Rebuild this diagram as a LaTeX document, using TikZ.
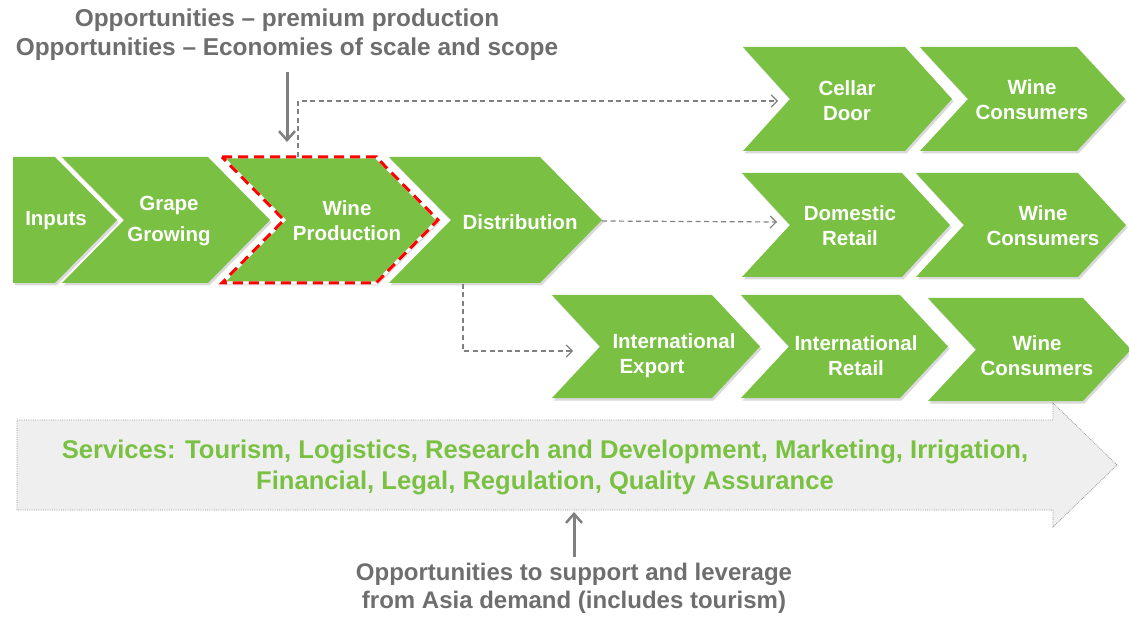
\documentclass[tikz,border=0pt]{standalone}
\usepackage{fontspec}
\setmainfont{Liberation Sans}
\usetikzlibrary{shadows,arrows.meta}
\definecolor{cgreen}{HTML}{7AC143}
\definecolor{cgray}{HTML}{6E6E6E}
\definecolor{agray}{HTML}{808080}
\definecolor{sfill}{HTML}{EFEFEF}
\newcommand\chevron[6][]{%
  \path[chev,#1] (#2,#5) -- (#3,#5) -- ({#3+#4},{(#5+#6)/2}) -- (#3,#6) -- (#2,#6) -- ({#2+#4},{(#5+#6)/2}) -- cycle;}
\tikzset{
  chev/.style={fill=cgreen, drop shadow={shadow xshift=1.5pt, shadow yshift=-2.5pt, opacity=0.3}},
  ctext/.style={text=white, font=\fontsize{20.5}{25}\selectfont\bfseries, align=center, inner sep=0pt},
  ttext/.style={text=cgray, font=\fontsize{24.4}{29}\selectfont\bfseries, align=center, inner sep=0pt},
  stext/.style={text=cgreen, font=\fontsize{25.6}{31}\selectfont\bfseries, align=center, inner sep=0pt},
  dashconn/.style={draw=agray, line width=1.2pt, dash pattern=on 5pt off 3.5pt, -{Straight Barb[length=6pt,width=12pt,line width=1.2pt]}},
  garrow/.style={draw=agray, line width=3pt, -{Straight Barb[length=9pt,width=16pt,line width=2.5pt]}},
  focus/.style={draw=red, line width=3pt, dash pattern=on 10pt off 6pt},
}
\begin{document}
\begin{tikzpicture}[x=1pt,y=-1pt]
\useasboundingbox (0,0) rectangle (1129,617);

% services arrow
\path[fill=sfill, draw=agray!80, line width=0.8pt, densely dotted]
  (17,420) -- (1053,420) -- (1053,403) -- (1117,465) -- (1053,527) -- (1053,510) -- (17,510) -- cycle;
\node[stext] (services) at (545,467) {Services: Tourism, Logistics, Research and Development, Marketing, Irrigation,\\Financial, Legal, Regulation, Quality Assurance};

% main row
\path[chev] (13,157) -- (55,157) -- (117,220) -- (55,283) -- (13,283) -- cycle;
\chevron{62}{208}{62}{157}{283}
\path[chev] (222,157) -- (376,157) -- (438,220) -- (376,283) -- (222,283) -- (284,220) -- cycle;
\draw[white, line width=3pt] (222,157) -- (376,157) -- (438,220) -- (376,283) -- (222,283) -- (284,220) -- cycle;
\draw[focus] (222,157) -- (376,157) -- (438,220) -- (376,283) -- (222,283) -- (284,220) -- cycle;
\chevron{389}{540}{62}{157}{283}

\node[ctext] (inputs) at (56,221) {Inputs};
\node[ctext, font=\fontsize{20.5}{31}\selectfont\bfseries] (grape) at (169,221) {Grape\\Growing};
\node[ctext] (wineprod) at (347,221) {Wine\\Production};
\node[ctext] (distrib) at (520,222) {Distribution};

% row 1
\chevron{743}{905}{47}{47}{151}
\chevron{920}{1077}{48}{47}{151}
\node[ctext] (cellar) at (847,101) {Cellar\\Door};
\node[ctext] (wc1) at (1032,100) {Wine\\Consumers};

% row 2
\chevron{742}{902}{48}{173}{277}
\chevron{916}{1078}{48}{173}{277}
\node[ctext] (domestic) at (850,226) {Domestic\\Retail};
\node[ctext] (wc2) at (1043,226) {Wine\\Consumers};

% row 3
\chevron{552}{712}{48}{295}{398}
\chevron{741}{900}{48}{295}{398}
\chevron{928}{1083}{48}{298}{401}
\node[ctext, align=left] (export) at (674,356) {International\\\hspace{7pt}Export};
\node[ctext] (intretail) at (856,356) {International\\Retail};
\node[ctext] (wc3) at (1037,356) {Wine\\Consumers};

% connectors
\coordinate (wpTop) at (298,157);
\coordinate (cdIn) at (778,101);
\coordinate (distTip) at (602,221);
\coordinate (drIn) at (777,222);
\coordinate (distBot) at (463,284);
\coordinate (ieIn) at (573,351);
\draw[dashconn] (wpTop) |- (cdIn);
\draw[dashconn] (distTip) -- (drIn);
\draw[dashconn] (distBot) |- (ieIn);

% titles
\node[ttext] (title) at (287,35) {Opportunities -- premium production\\Opportunities -- Economies of scale and scope};
\coordinate (tA) at (287,72);
\coordinate (tB) at (287,142);
\draw[garrow] (tA) -- (tB);

\node[ttext, font=\fontsize{24}{28}\selectfont\bfseries] (asia) at (574,588) {Opportunities to support and leverage\\from Asia demand (includes tourism)};
\coordinate (bA) at (574,557);
\coordinate (bB) at (574,512);
\draw[garrow] (bA) -- (bB);
\end{tikzpicture}
\end{document}
